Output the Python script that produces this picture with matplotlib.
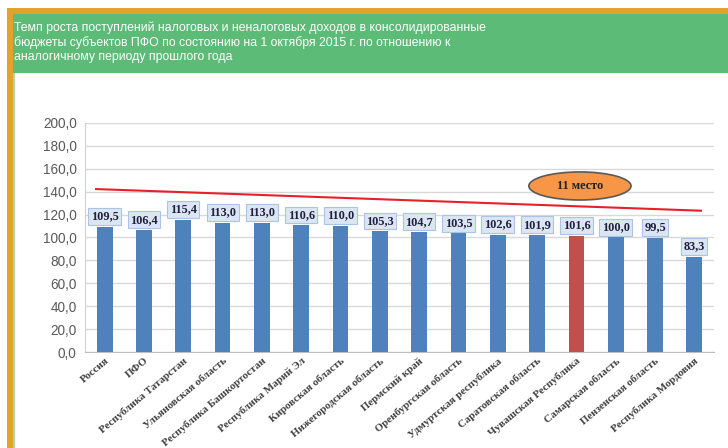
import matplotlib
matplotlib.use("Agg")
import matplotlib.pyplot as plt
from matplotlib.patches import Rectangle, Ellipse

categories = ["Россия", "ПФО", "Республика Татарстан", "Ульяновская область",
              "Республика Башкортостан", "Республика Марий Эл", "Кировская область",
              "Нижегородская область", "Пермский край", "Оренбургская область",
              "Удмуртская республика", "Саратовская область", "Чувашская Республика",
              "Самарская область", "Пензенская область", "Республика Мордовия"]
values = [109.5, 106.4, 115.4, 113.0, 113.0, 110.6, 110.0, 105.3, 104.7,
          103.5, 102.6, 101.9, 101.6, 100.0, 99.5, 83.3]
highlight = "Чувашская Республика"
trend_x = [-0.22, 15.17]
trend_y = [142.3, 123.4]
badge_text = "11 место"
yticks = [0, 20, 40, 60, 80, 100, 120, 140, 160, 180, 200]
title = ("Темп роста поступлений налоговых и неналоговых доходов в консолидированные\n"
         "бюджеты субъектов ПФО по состоянию на 1 октября 2015 г. по отношению к\n"
         "аналогичному периоду прошлого года")

W, H = 728, 448
fig = plt.figure(figsize=(W / 100, H / 100), dpi=100)
fig.patch.set_facecolor("white")

def fx(px):
    return px / W

def fy(py):
    return 1 - py / H

# decorative frame
fig.patches.append(Rectangle((fx(7), fy(448)), fx(6), (448 - 8) / H, transform=fig.transFigure,
                             facecolor="#E3A228", edgecolor="none", zorder=0))
fig.patches.append(Rectangle((fx(7), fy(14)), fx(721), 6 / H, transform=fig.transFigure,
                             facecolor="#E3A228", edgecolor="none", zorder=0))
fig.patches.append(Rectangle((fx(13), fy(448)), fx(2), (448 - 72) / H, transform=fig.transFigure,
                             facecolor="#A8D8A8", edgecolor="none", zorder=0))
fig.patches.append(Rectangle((fx(13), fy(73)), fx(715), 59 / H, transform=fig.transFigure,
                             facecolor="#5DBB78", edgecolor="none", zorder=0))
fig.text(fx(13.5), fy(21.5), title, color="white", fontsize=8.8, family="Liberation Sans",
         va="top", ha="left", linespacing=1.2)

ax = fig.add_axes([fx(85), fy(352), fx(714 - 85), (352 - 123) / H])
ax.set_facecolor("white")
x = list(range(len(categories)))
colors = ["#C0504D" if c == highlight else "#4F81BD" for c in categories]
ax.bar(x, values, width=0.4, color=colors, zorder=3)
ax.set_xlim(-0.5, len(categories) - 0.5)
ax.set_ylim(0, 200)
ax.set_yticks(yticks)
ax.set_yticklabels([f"{v:.1f}".replace(".", ",") for v in yticks],
                   fontsize=9.8, color="#595959", family="Liberation Sans")
ax.grid(axis="y", color="#D9D9D9", linewidth=1, zorder=0)
for s in ["top", "right"]:
    ax.spines[s].set_visible(False)
ax.spines["left"].set_color("#D0D0D0")
ax.spines["bottom"].set_color("#BFBFBF")
ax.tick_params(axis="y", length=0, pad=6)
ax.tick_params(axis="x", length=0, pad=3)
ax.set_xticks(x)
ax.set_xticklabels(categories, rotation=40, ha="right", rotation_mode="anchor",
                   fontsize=7.8, fontweight="bold", family="Liberation Serif", color="#404040")

for xi, v in zip(x, values):
    ax.annotate(f"{v:.1f}".replace(".", ","), (xi, v), xytext=(0, 7.5), textcoords="offset points",
                ha="center", va="center", fontsize=8.8, fontweight="bold",
                family="Liberation Serif", color="#1F1F3F", zorder=5,
                bbox=dict(boxstyle="square,pad=0.2", facecolor="#DCE6F2", edgecolor="#A9C4E4", lw=0.8))

ax.plot(trend_x, trend_y, color="#E8202A", lw=1.5, zorder=4, clip_on=False)

hi = categories.index(highlight)
ax.add_patch(Ellipse((hi + 0.09, 145), 2.6, 24.5, facecolor="#F79646", edgecolor="#595959",
                     lw=1.2, zorder=6))
ax.text(hi + 0.09, 145, badge_text, ha="center", va="center", fontsize=8.8, fontweight="bold",
        family="Liberation Serif", color="#222222", zorder=7)

fig.savefig("out.png", dpi=100)
